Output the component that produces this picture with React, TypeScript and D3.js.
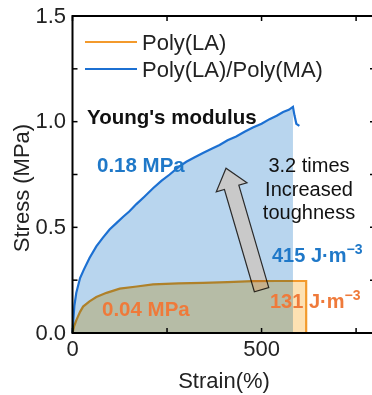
import React, { useRef, useEffect } from 'react';
import * as d3 from 'd3';

// strain (%), stress (MPa)
const blueStrain = [0, 2, 5, 10, 20, 30, 45, 63, 80, 98, 116, 134, 150, 169, 190, 213, 235, 257, 280, 301, 322, 345, 368, 389, 410, 433, 455, 477, 500, 521, 540, 557, 572, 583, 587, 592, 600];
const blueStress = [0, 0.06, 0.13, 0.19, 0.26, 0.3, 0.355, 0.41, 0.45, 0.49, 0.52, 0.55, 0.575, 0.61, 0.645, 0.685, 0.72, 0.75, 0.785, 0.81, 0.83, 0.852, 0.872, 0.89, 0.912, 0.93, 0.952, 0.972, 0.99, 1.012, 1.028, 1.046, 1.056, 1.07, 1.03, 0.99, 0.98];
const blueFillEnd = 583;

const orangeStrain = [0, 4, 10, 20, 28, 45, 63, 90, 125, 170, 213, 280, 345, 410, 477, 540, 600, 618, 618];
const orangeStress = [0, 0.03, 0.06, 0.1, 0.125, 0.15, 0.17, 0.19, 0.21, 0.22, 0.23, 0.235, 0.237, 0.241, 0.245, 0.246, 0.246, 0.246, 0];

const xTicks = [0, 500];
const xMinor = [250, 750];
const yTicks = [0, 0.5, 1.0, 1.5];
const yMinor = [0.25, 0.75, 1.25];

const seriesNames = ['Poly(LA)', 'Poly(LA)/Poly(MA)'];
const blueColor = '#1c70d2';
const orangeColor = '#f39a2c';

// arrow annotation in data space: tail -> tip
const arrowTail = [500, 0.205];
const arrowTip = [406, 0.78];

const App = () => {
    const svgRef = useRef<SVGSVGElement>(null);

    useEffect(() => {
        const svg = d3.select(svgRef.current);
        svg.selectAll('*').remove();

        const font = '"Liberation Sans", Arial, sans-serif';
        const x = d3.scaleLinear().domain([0, 800]).range([72.5, 375]);
        const y = d3.scaleLinear().domain([0, 1.5]).range([333, 16]);

        const blue = blueStrain.map((s, i) => [s, blueStress[i]]);
        const orange = orangeStrain.map((s, i) => [s, orangeStress[i]]);

        const area = d3.area<number[]>().x(d => x(d[0])).y0(y(0)).y1(d => y(d[1]));
        const line = d3.line<number[]>().x(d => x(d[0])).y(d => y(d[1]));

        // blue fill + curve
        svg.append('path')
            .attr('d', area(blue.filter(d => d[0] <= blueFillEnd)))
            .attr('fill', '#b8d5ee');
        svg.append('path')
            .attr('d', line(blue))
            .attr('fill', 'none')
            .attr('stroke', blueColor)
            .attr('stroke-width', 2.2);

        // arrow
        const tx = x(arrowTail[0]), ty = y(arrowTail[1]);
        const hx = x(arrowTip[0]), hy = y(arrowTip[1]);
        const len = Math.hypot(hx - tx, hy - ty);
        const ux = (hx - tx) / len, uy = (hy - ty) / len;
        const px = -uy, py = ux;
        const sw = 7.5, hw = 16, hl = 20;
        const bx = hx - ux * hl, by = hy - uy * hl;
        const pts = [
            [tx + px * sw, ty + py * sw],
            [bx + px * sw, by + py * sw],
            [bx + px * hw, by + py * hw],
            [hx, hy],
            [bx - px * hw, by - py * hw],
            [bx - px * sw, by - py * sw],
            [tx - px * sw, ty - py * sw],
        ];
        svg.append('polygon')
            .attr('points', pts.map(p => p.join(',')).join(' '))
            .attr('fill', '#c9c9c9')
            .attr('stroke', '#2a2a2a')
            .attr('stroke-width', 1.2);

        // orange layer, multiplied over the blue fill
        const og = svg.append('g').style('mix-blend-mode', 'multiply');
        og.append('path')
            .attr('d', area(orange))
            .attr('fill', '#fde1b2');
        og.append('path')
            .attr('d', line(orange))
            .attr('fill', 'none')
            .attr('stroke', orangeColor)
            .attr('stroke-width', 2.2);

        // frame
        svg.append('path')
            .attr('d', `M${x(800)},${y(1.5)}H${x(0)}V${y(0)}H${x(800)}`)
            .attr('fill', 'none')
            .attr('stroke', '#000')
            .attr('stroke-width', 2);

        const tk = 5;
        const ticks = svg.append('g').attr('stroke', '#000').attr('stroke-width', 1.5);
        [...xTicks, ...xMinor].forEach(v => {
            ticks.append('line').attr('x1', x(v)).attr('x2', x(v)).attr('y1', y(0)).attr('y2', y(0) - tk);
            ticks.append('line').attr('x1', x(v)).attr('x2', x(v)).attr('y1', y(1.5)).attr('y2', y(1.5) + tk);
        });
        [...yTicks, ...yMinor].forEach(v => {
            ticks.append('line').attr('x1', x(0)).attr('x2', x(0) + tk).attr('y1', y(v)).attr('y2', y(v));
            ticks.append('line').attr('x1', x(800)).attr('x2', x(800) - tk).attr('y1', y(v)).attr('y2', y(v));
        });

        // tick labels
        svg.append('g').selectAll('text').data(yTicks).enter().append('text')
            .attr('x', 66).attr('y', d => y(d) - 1)
            .attr('dy', '0.35em')
            .attr('text-anchor', 'end')
            .attr('font-family', font).attr('font-size', 22).attr('fill', '#222')
            .text(d => d.toFixed(1));
        svg.append('g').selectAll('text').data(xTicks).enter().append('text')
            .attr('x', d => x(d)).attr('y', 356)
            .attr('text-anchor', 'middle')
            .attr('font-family', font).attr('font-size', 22).attr('fill', '#222')
            .text(d => d);

        // axis titles
        svg.append('text')
            .attr('x', 224).attr('y', 388)
            .attr('text-anchor', 'middle')
            .attr('font-family', font).attr('font-size', 22).attr('fill', '#222')
            .text('Strain(%)');
        svg.append('text')
            .attr('transform', 'translate(29,188) rotate(-90)')
            .attr('text-anchor', 'middle')
            .attr('font-family', font).attr('font-size', 22).attr('fill', '#222')
            .text('Stress (MPa)');

        // legend
        [orangeColor, blueColor].forEach((c, i) => {
            const ly = 42 + i * 27;
            svg.append('line')
                .attr('x1', 85).attr('x2', 137).attr('y1', ly).attr('y2', ly)
                .attr('stroke', c).attr('stroke-width', 2);
            svg.append('text')
                .attr('x', 142).attr('y', ly + 8)
                .attr('font-family', font).attr('font-size', 22).attr('fill', '#222')
                .text(seriesNames[i]);
        });

        const label = (tx: number, ty: number, t: string, color: string, bold: boolean, size: number, anchor = 'start') =>
            svg.append('text')
                .attr('x', tx).attr('y', ty)
                .attr('text-anchor', anchor)
                .attr('font-family', font).attr('font-size', size)
                .attr('font-weight', bold ? 'bold' : 'normal')
                .attr('fill', color)
                .text(t);

        label(87, 124, "Young's modulus", '#111', true, 20.5);
        label(97, 172, '0.18 MPa', '#1f78c8', true, 20.5);
        label(102, 316, '0.04 MPa', '#ef7a3a', true, 20.5);
        label(309, 172, '3.2 times', '#111', false, 20, 'middle');
        label(309, 196, 'Increased', '#111', false, 20, 'middle');
        label(309, 219, 'toughness', '#111', false, 20, 'middle');

        const unit = (tx: number, ty: number, num: string, color: string) => {
            const t = svg.append('text')
                .attr('x', tx).attr('y', ty)
                .attr('font-family', font).attr('font-size', 20)
                .attr('font-weight', 'bold').attr('fill', color);
            t.append('tspan').text(`${num} J·m`);
            t.append('tspan').attr('dy', -8).attr('font-size', 14).text('−3');
        };
        unit(272, 262, '415', '#1f78c8');
        unit(270, 308, '131', '#ef7a3a');
    }, []);

    return <svg ref={svgRef} width={372} height={395} style={{ position: 'absolute', left: 0, top: 0 }}></svg>;
};

export default App;
